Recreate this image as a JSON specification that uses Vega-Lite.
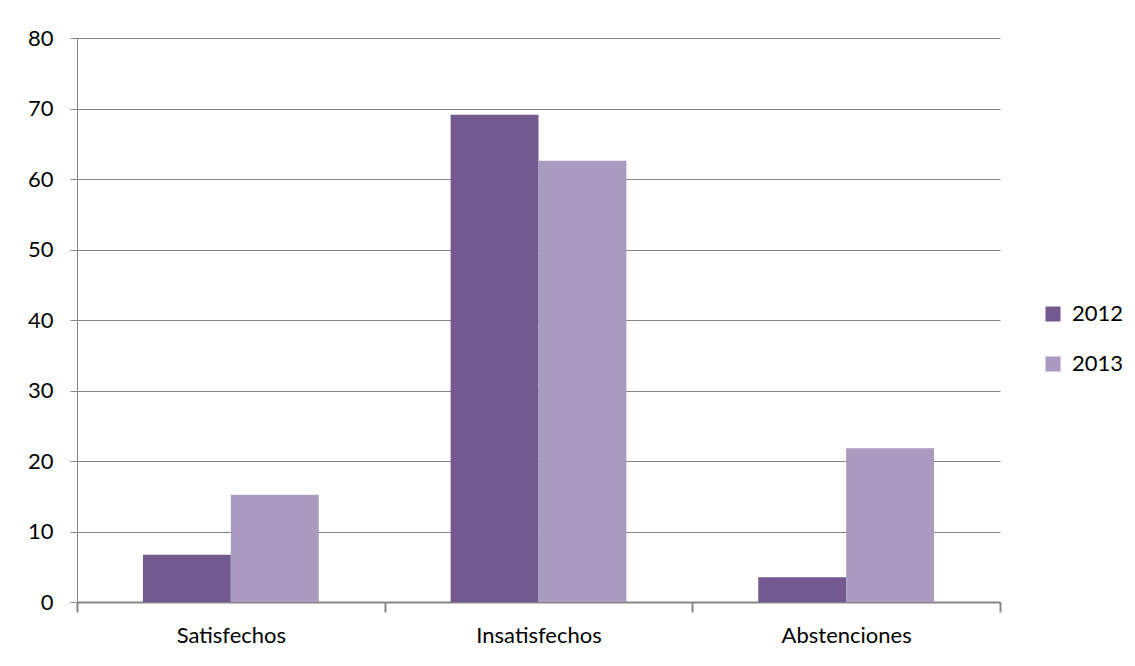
{
  "$schema": "https://vega.github.io/schema/vega-lite/v6.json",
  "autosize": {"type": "none"},
  "width": 923,
  "height": 564,
  "padding": {"left": 77, "top": 38, "right": 135, "bottom": 64},
  "background": "white",
  "config": {
    "view": {"stroke": null},
    "font": "Lato",
    "axis": {"labelFont": "Lato", "labelFontSize": 22, "labelColor": "#000000", "domainColor": "#868686", "tickColor": "#868686", "gridColor": "#868686", "gridOpacity": 1, "title": null}
  },
  "data": {
    "values": [
      {"categoria": "Satisfechos", "anio": "2012", "valor": 6.7},
      {"categoria": "Satisfechos", "anio": "2013", "valor": 15.2},
      {"categoria": "Insatisfechos", "anio": "2012", "valor": 69.1},
      {"categoria": "Insatisfechos", "anio": "2013", "valor": 62.6},
      {"categoria": "Abstenciones", "anio": "2012", "valor": 3.5},
      {"categoria": "Abstenciones", "anio": "2013", "valor": 21.8}
    ]
  },
  "mark": {"type": "bar"},
  "encoding": {
    "x": {
      "field": "categoria",
      "type": "nominal",
      "sort": ["Satisfechos", "Insatisfechos", "Abstenciones"],
      "scale": {"paddingInner": 0, "paddingOuter": 0},
      "axis": {"labelAngle": 0, "tickBand": "extent", "tickSize": 10, "labelPadding": 13, "domainWidth": 2, "tickWidth": 2, "grid": false}
    },
    "xOffset": {
      "field": "anio",
      "type": "nominal",
      "scale": {"paddingInner": 0, "paddingOuter": 0.75}
    },
    "y": {
      "field": "valor",
      "type": "quantitative",
      "scale": {"domain": [0, 80], "nice": false},
      "axis": {"values": [0, 10, 20, 30, 40, 50, 60, 70, 80], "tickSize": 7, "labelPadding": 17, "grid": true, "gridWidth": 1, "domainWidth": 1}
    },
    "color": {
      "field": "anio",
      "type": "nominal",
      "scale": {"domain": ["2012", "2013"], "range": ["#72598F", "#A99AC0"]},
      "legend": {
        "title": null,
        "orient": "none",
        "legendX": 965,
        "legendY": 265,
        "symbolType": "square",
        "symbolSize": 225,
        "symbolStrokeWidth": 0,
        "labelFont": "Lato",
        "labelFontSize": 22,
        "labelColor": "#000000",
        "labelOffset": 8,
        "rowPadding": 28
      }
    }
  }
}
